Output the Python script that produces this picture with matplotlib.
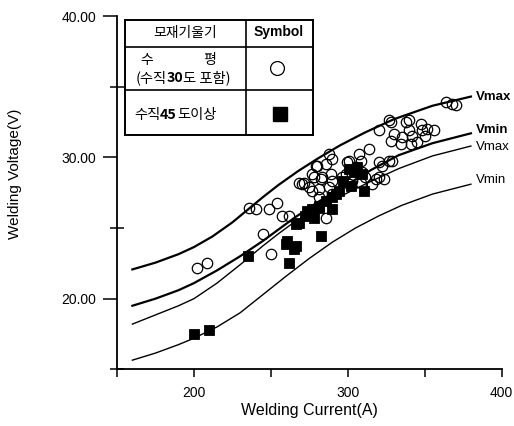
import matplotlib
matplotlib.use("Agg")
import matplotlib.pyplot as plt
from matplotlib.ticker import FixedLocator

plt.rcParams['font.family'] = ['Liberation Sans', 'DejaVu Sans']
KFONT = ['Noto Sans CJK KR', 'DejaVu Sans']

# limit curves
curve_a = [160, 175, 190, 200, 212, 225, 235, 245, 255, 268, 281, 295, 311, 330, 355, 380]
vmax_hi = [22.07, 22.55, 23.15, 23.65, 24.4, 25.4, 26.3, 27.2, 28.05, 29.05, 29.95, 30.85, 31.75, 32.7, 33.65, 34.3]

curve_b = [160, 175, 190, 200, 215, 230, 245, 255, 265, 280, 300, 315, 333, 355, 380]
vmin_hi = [19.5, 20.0, 20.6, 21.1, 22.0, 23.0, 24.1, 24.9, 25.7, 26.8, 28.1, 29.1, 30.15, 31.0, 31.7]
vmax_lo = [18.2, 18.85, 19.5, 20.0, 21.1, 22.4, 23.75, 24.6, 25.4, 26.4, 27.5, 28.3, 29.2, 30.1, 30.8]

curve_c = [160, 175, 190, 200, 215, 230, 245, 260, 275, 290, 305, 320, 335, 355, 380]
vmin_lo = [15.65, 16.15, 16.75, 17.2, 18.0, 19.0, 20.3, 21.6, 22.85, 24.0, 25.0, 25.85, 26.6, 27.4, 28.1]

# open circles: horizontal (incl. 30 deg vertical)
circ_a = [201.8, 208.3, 235.7, 240.5, 245.0, 249.8, 248.7, 254.1, 257.0, 261.7,
          285.6, 270.4, 274.7, 276.9, 280.1, 282.3, 287.7, 289.9, 288.8, 281.2,
          299.6, 300.7, 271.5, 279.1, 278.0, 283.4, 287.7, 289.9, 300.7, 308.3,
          305.1, 298.6, 302.9, 309.4, 320.2, 326.7, 322.3, 320.2, 323.5, 320.2,
          327.8, 330.0, 327.8, 337.6, 339.7, 341.9, 335.4, 334.3, 347.3, 348.3,
          345.1, 340.8, 350.5, 326.7, 339.7, 355.9, 351.6, 363.5, 367.8, 370.0,
          307.2, 313.7, 296.4, 311.5, 318.1, 276.9, 281.2, 289.9, 308.3, 315.9,
          328.9, 268.2, 285.6]
circ_v = [22.18, 22.54, 26.40, 26.33, 24.56, 23.13, 26.33, 26.80, 25.86, 25.86,
          25.68, 28.11, 27.87, 28.82, 29.41, 28.46, 30.24, 29.89, 28.82, 27.75,
          29.64, 28.11, 28.22, 29.41, 28.58, 28.58, 27.87, 28.34, 29.77, 29.77,
          29.29, 28.82, 28.34, 28.93, 29.64, 29.77, 29.41, 28.58, 28.46, 31.90,
          32.49, 31.66, 31.19, 32.49, 31.90, 31.54, 31.42, 30.95, 32.37, 31.90,
          31.07, 30.95, 31.54, 32.61, 32.61, 31.90, 32.02, 33.91, 33.80, 33.67,
          30.26, 30.62, 28.58, 28.58, 28.46, 27.63, 27.16, 27.40, 28.22, 28.11,
          29.77, 28.22, 29.53]

# filled squares: vertical 45 deg and more
sq_a = [200.0, 209.7, 235.3, 261.7, 265.0, 259.6, 260.6, 266.1, 268.2, 282.3,
        276.9, 281.2, 289.9, 292.1, 278.0, 272.5, 266.1, 273.6, 300.7, 304.0,
        306.1, 309.4, 294.2, 289.9, 310.5, 281.2, 285.6, 297.0, 302.0]
sq_v = [17.49, 17.80, 23.01, 22.54, 23.49, 23.84, 24.08, 23.72, 25.38, 24.44,
        26.33, 26.57, 26.33, 27.40, 25.74, 25.86, 25.26, 26.21, 29.17, 28.93,
        29.29, 28.82, 27.63, 27.16, 27.63, 26.45, 26.92, 28.30, 28.00]

curve_labels = [("Vmax", 34.24, "bold"), ("Vmin", 31.9, "bold"),
                ("Vmax", 30.76, "normal"), ("Vmin", 28.4, "normal")]

fig = plt.figure(figsize=(5.14, 4.26), dpi=100)
ax = fig.add_axes([0.2276, 0.133, 0.7484, 0.8294])

ax.plot(curve_a, vmax_hi, color='black', lw=1.6)
ax.plot(curve_b, vmin_hi, color='black', lw=1.6)
ax.plot(curve_b, vmax_lo, color='black', lw=1.0)
ax.plot(curve_c, vmin_lo, color='black', lw=1.0)

ax.plot(circ_a, circ_v, 'o', ms=7.5, mfc='none', mec='black', mew=0.9)
ax.plot(sq_a, sq_v, 's', ms=7.2, mfc='black', mec='black', mew=0.6)

for txt, v, w in curve_labels:
    ax.text(383, v, txt, fontsize=9.5, fontweight=w, va='center', ha='left', clip_on=False)

ax.set_xlim(150, 400)
ax.set_ylim(15, 40)
ax.spines['top'].set_visible(False)
ax.spines['right'].set_visible(False)
for s in ['left', 'bottom']:
    ax.spines[s].set_linewidth(1.3)

ax.xaxis.set_major_locator(FixedLocator([200, 300, 400]))
ax.xaxis.set_minor_locator(FixedLocator([150, 250, 350]))
ax.yaxis.set_major_locator(FixedLocator([20, 30, 40]))
ax.yaxis.set_minor_locator(FixedLocator([15, 25, 35]))
ax.set_xticklabels(['200', '300', '400'])
ax.set_yticklabels(['20.00', '30.00', '40.00'])
ax.tick_params(axis='x', which='both', direction='out', length=6, width=1.1, labelsize=10, pad=6)
ax.tick_params(axis='y', which='major', direction='out', length=10, width=1.1, labelsize=10, pad=5)
ax.tick_params(axis='y', which='minor', direction='inout', length=10, width=1.1)

ax.set_xlabel('Welding Current(A)', fontsize=11.5, labelpad=2)
ax.set_ylabel('Welding Voltage(V)', fontsize=11)
ax.yaxis.set_label_coords(-0.247, 0.553)

# legend table
lax = fig.add_axes([0.2432, 0.6831, 0.3658, 0.270])
lax.set_xlim(0, 1)
lax.set_ylim(0, 1)
lax.set_xticks([])
lax.set_yticks([])
for s in lax.spines.values():
    s.set_linewidth(1.4)
lax.axvline(0.642, color='black', lw=1.2)
lax.axhline(0.768, color='black', lw=1.2)
lax.axhline(0.391, color='black', lw=1.2)

renderer = fig.canvas.get_renderer()


def rich_text(x, y, pieces, size=10):
    texts = []
    for s, w in pieces:
        t = lax.text(0, y, s, fontsize=size, fontweight=w, family=KFONT,
                     ha='left', va='center', transform=lax.transAxes)
        texts.append(t)
    widths = [t.get_window_extent(renderer).width for t in texts]
    start = lax.transAxes.transform((x, y))[0] - sum(widths) / 2
    for t, w in zip(texts, widths):
        t.set_x(lax.transAxes.inverted().transform((start, 0))[0])
        start += w


lax.text(0.319, 0.885, '모재기울기', fontsize=10, family=KFONT, ha='center', va='center')
lax.text(0.819, 0.895, 'Symbol', fontsize=10, fontweight='bold', ha='center', va='center')
lax.text(0.117, 0.655, '수', fontsize=10, family=KFONT, ha='center', va='center')
lax.text(0.452, 0.655, '평', fontsize=10, family=KFONT, ha='center', va='center')
rich_text(0.308, 0.495, [('(수직', 'normal'), ('30', 'bold'), ('도 포함)', 'normal')], size=10.3)
rich_text(0.266, 0.175, [('수직', 'normal'), ('45', 'bold'), ('도이상', 'normal')], size=10.3)
lax.plot([0.81], [0.58], 'o', ms=10, mfc='none', mec='black', mew=0.9)
lax.plot([0.824], [0.18], 's', ms=10.5, mfc='black', mec='black')

fig.savefig('out.png', dpi=100)
